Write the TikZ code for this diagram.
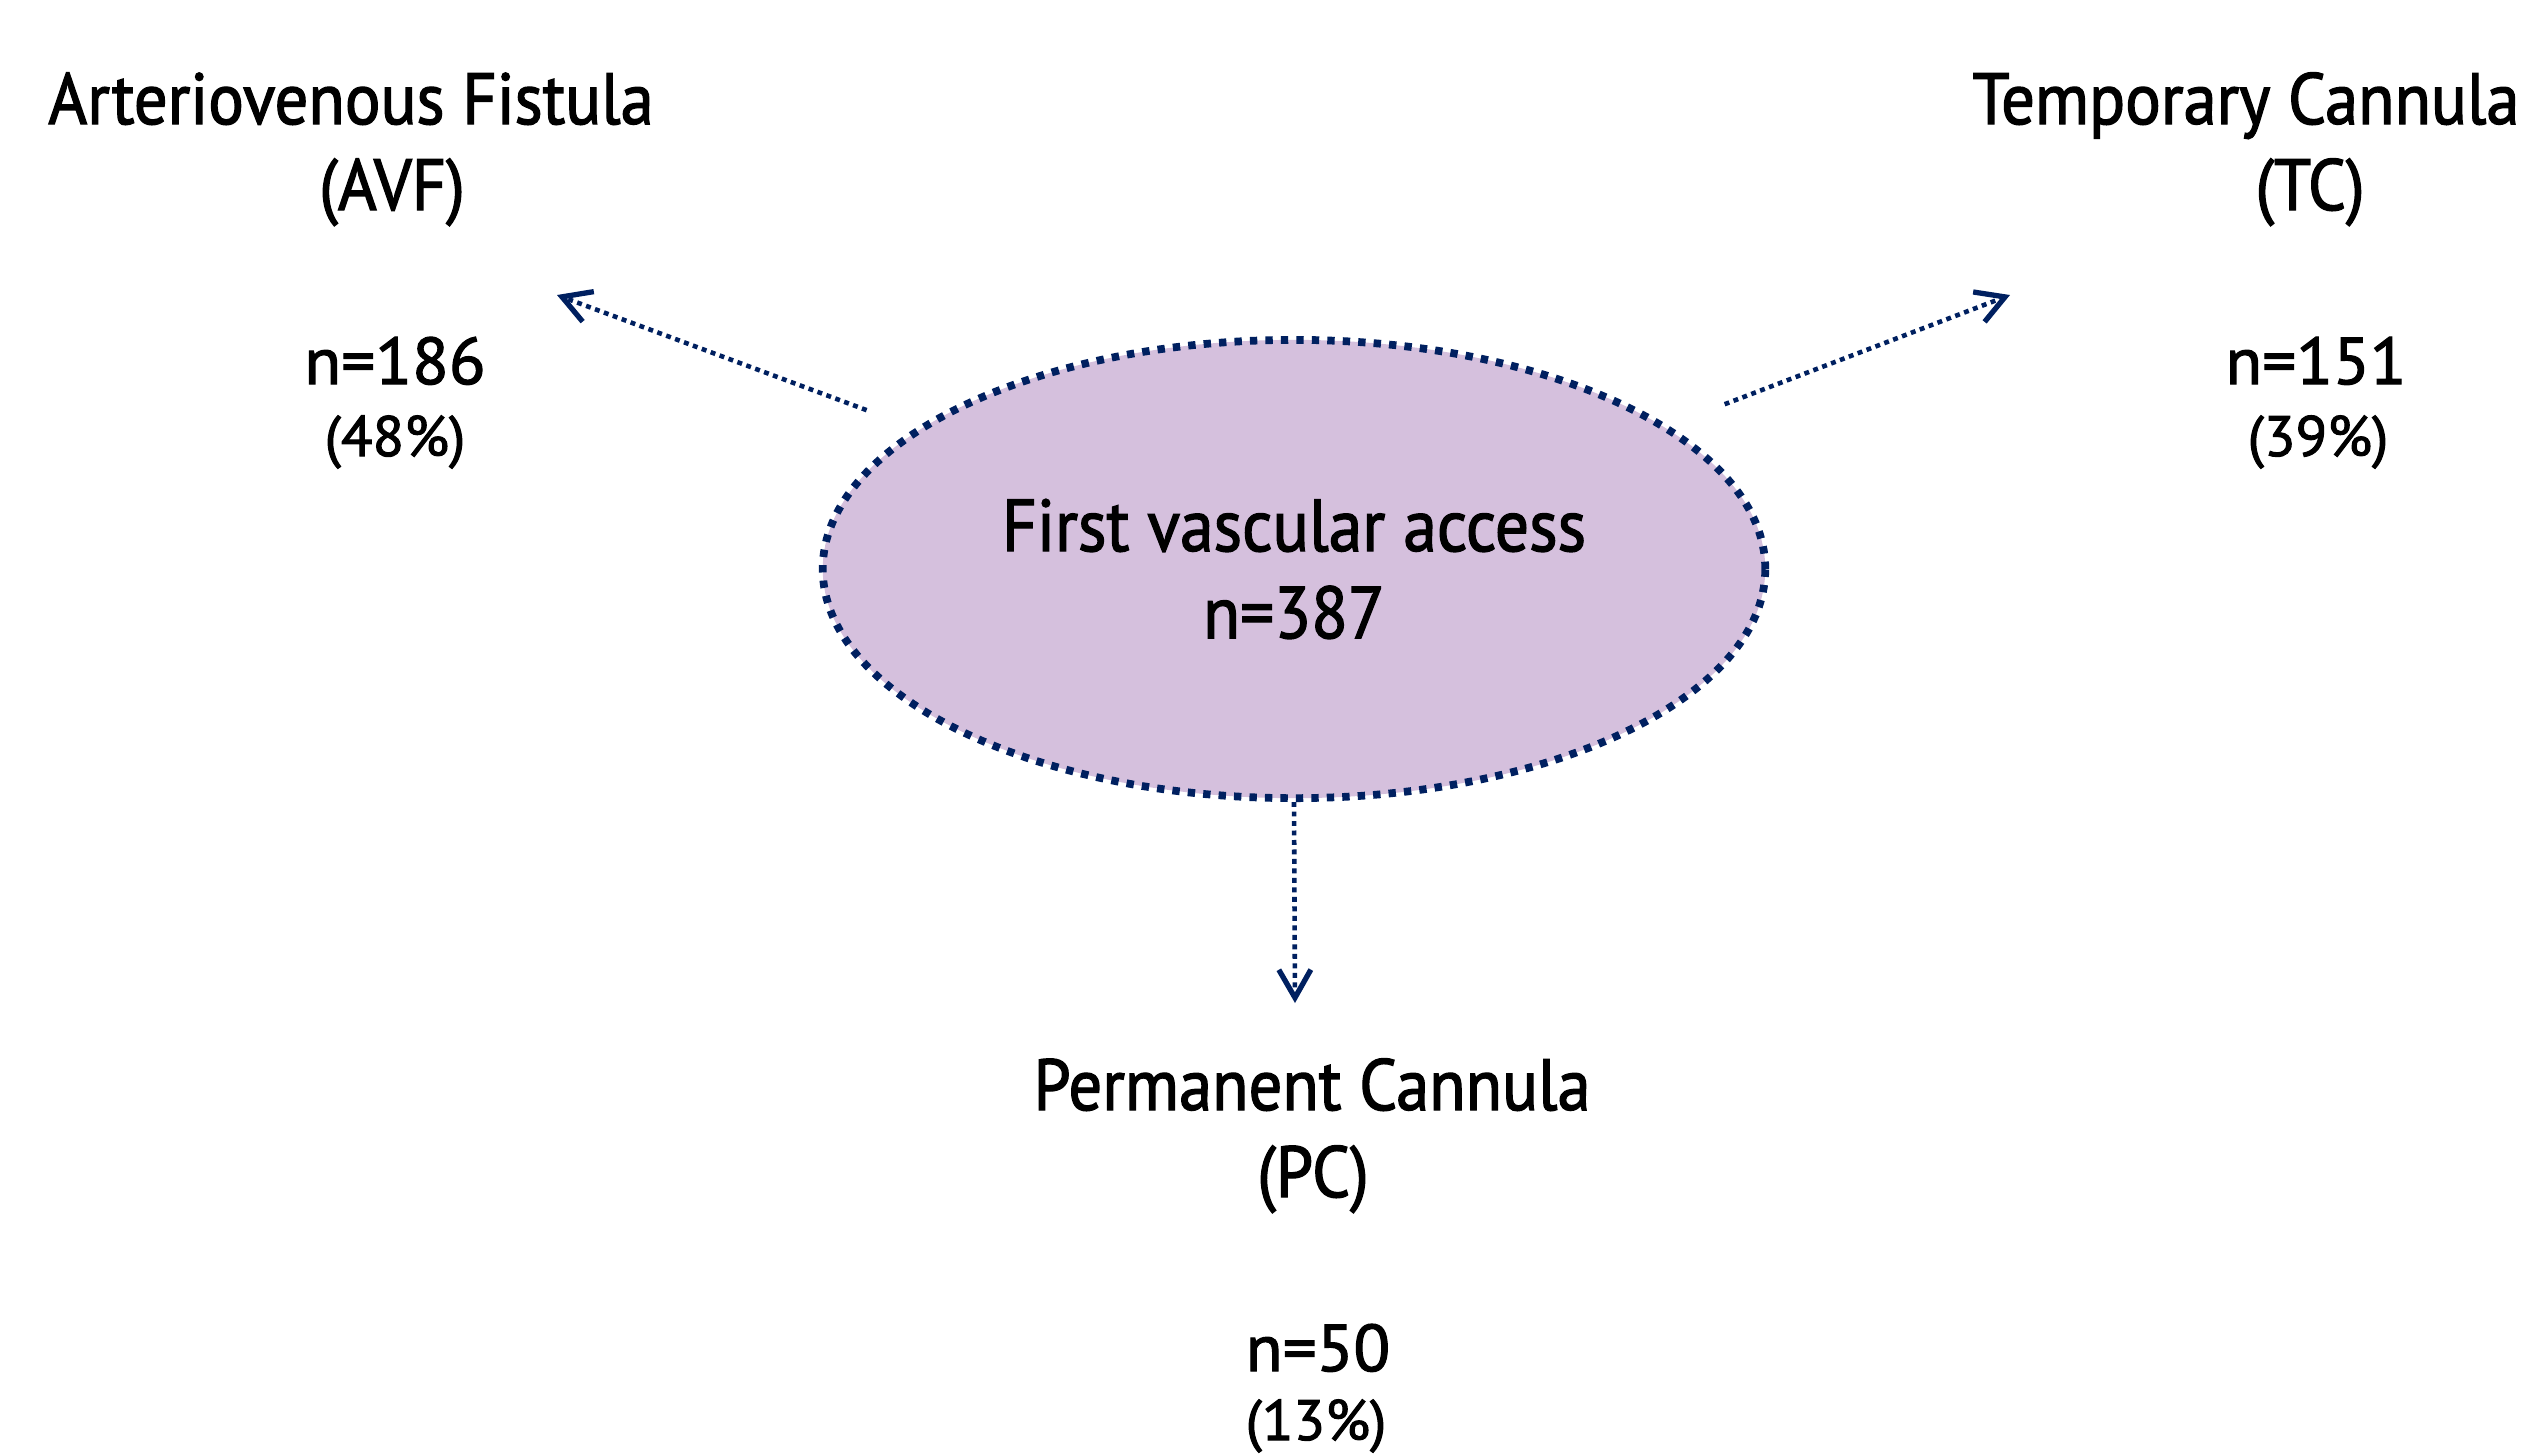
\documentclass[tikz,border=0pt]{standalone}
\usepackage{fontspec}
\setmainfont{PT Sans}[FakeStretch=0.92,FakeBold=1.8]
\newfontfamily\numfont{PT Sans}[FakeStretch=1.02,FakeBold=1.8]
\usetikzlibrary{arrows.meta,shapes.geometric}
\definecolor{navyb}{RGB}{0,32,96}
\definecolor{lilac}{RGB}{213,192,221}
\begin{document}
\begin{tikzpicture}[x=0.01cm,y=-0.01cm,
  big/.style={font=\fontsize{20.6}{24}\selectfont, anchor=base, inner sep=0},
  num/.style={font=\numfont\fontsize{18.8}{22}\selectfont, anchor=base, inner sep=0},
  pct/.style={font=\numfont\fontsize{16.2}{19}\selectfont, anchor=base, inner sep=0},
  flow/.style={navyb, line width=1.3pt, dash pattern=on 1.4pt off 1.3pt,
    -{Straight Barb[length=0.28cm,width=0.32cm,line width=1.5pt]}},
  oval/.style={ellipse, draw=navyb, fill=lilac, line width=2.2pt,
    dash pattern=on 2.1pt off 2.3pt, minimum width=9.42cm, minimum height=4.58cm,
    inner sep=0, align=center, font=\fontsize{20.9}{24.75}\selectfont}]
\useasboundingbox (0,0) rectangle (2529,1453);

\node[oval] (ell) at (1294,569) {First vascular access\\n=387};

\node[big] (avf1) at (351,124) {Arteriovenous Fistula};
\node[big] (avf2) at (392,210) {(AVF)};
\node[num] (avfn) at (395,384) {n=186};
\node[pct] (avfp) at (395,456) {(48\%)};

\node[big] (tc1) at (2246,124) {Temporary Cannula};
\node[big] (tc2) at (2310,210) {(TC)};
\node[num] (tcn) at (2316,384) {n=151};
\node[pct] (tcp) at (2318,456) {(39\%)};

\node[big] (pc1) at (1312,1110) {Permanent Cannula};
\node[big] (pc2) at (1313,1197) {(PC)};
\node[num] (pcn) at (1318,1371) {n=50};
\node[pct] (pcp) at (1316,1440) {(13\%)};

\coordinate (avfT) at (557,295);
\coordinate (tcT) at (2010,295);
\coordinate (pcT) at (1295,1003);
\draw[flow, shorten <=0.52cm] (ell) -- (avfT);
\draw[flow, shorten <=0.6cm] (ell) -- (tcT);
\draw[flow] (ell.south) -- (pcT);
\end{tikzpicture}
\end{document}
